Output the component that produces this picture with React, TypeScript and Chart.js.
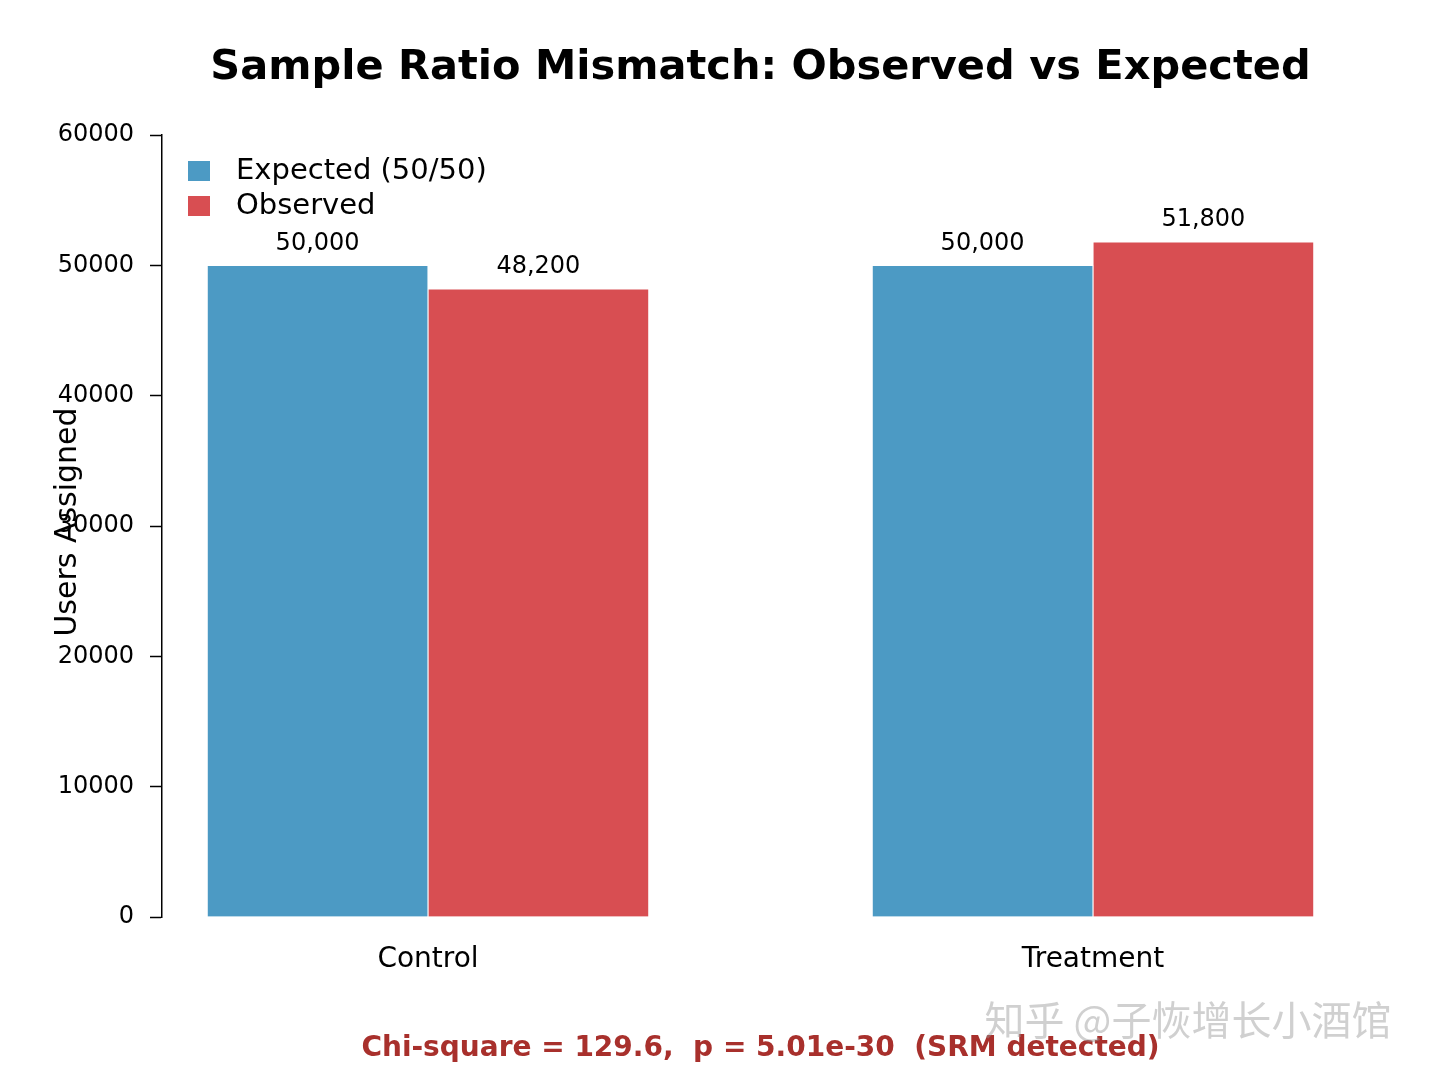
import React, { useEffect, useRef } from "react";
import { Chart, registerables } from "chart.js";
Chart.register(...registerables);

const categories = ["Control", "Treatment"];
const expected = [50000, 50000];
const observed = [48200, 51800];
const yTicks = [0, 10000, 20000, 30000, 40000, 50000, 60000];
const FONT = "'DejaVu Sans', sans-serif";
const BLUE = "#4C9AC4";
const RED = "#D84E52";

export default function App() {
  const ref = useRef<HTMLCanvasElement>(null);
  useEffect(() => {
    const off = 0.166;
    const overlay = {
      id: "overlay",
      afterDatasetsDraw(chart: any) {
        const ctx = chart.ctx;
        const ca = chart.chartArea;
        ctx.save();
        ctx.fillStyle = "#000";
        ctx.font = `24px ${FONT}`;
        ctx.textAlign = "center";
        ctx.textBaseline = "bottom";
        chart.data.datasets.forEach((ds: any, i: number) => {
          chart.getDatasetMeta(i).data.forEach((bar: any, j: number) => {
            ctx.fillText(ds.data[j].y.toLocaleString("en-US"), bar.x, bar.y - 10);
          });
        });
        const cx = (ca.left + ca.right) / 2;
        ctx.font = `bold 41.5px ${FONT}`;
        ctx.textBaseline = "middle";
        ctx.fillText("Sample Ratio Mismatch: Observed vs Expected", cx, 68);
        ctx.save();
        ctx.translate(68, 522);
        ctx.rotate(-Math.PI / 2);
        ctx.font = `30px ${FONT}`;
        ctx.fillText("Users Assigned", 0, 0);
        ctx.restore();
        ctx.textAlign = "left";
        ctx.font = `29px ${FONT}`;
        [["Expected (50/50)", BLUE], ["Observed", RED]].forEach(([t, c], k) => {
          const y = 171 + k * 35;
          ctx.fillStyle = c;
          ctx.fillRect(188, y - 10, 22, 20);
          ctx.fillStyle = "#000";
          ctx.fillText(t, 236, y);
        });
        ctx.textAlign = "center";
        ctx.fillStyle = "#A8302C";
        ctx.font = `bold 28px ${FONT}`;
        ctx.fillText("Chi-square = 129.6,  p = 5.01e-30  (SRM detected)", cx, 1049);
        ctx.fillStyle = "rgba(150,150,150,0.45)";
        ctx.font = `40px 'Noto Sans CJK SC', sans-serif`;
        ctx.fillText("知乎 @子恢增长小酒馆", 1188, 1020);
        ctx.restore();
      },
    };
    const chart = new Chart(ref.current!, {
      type: "bar",
      data: {
        datasets: [
          {
            label: "Expected (50/50)",
            data: expected.map((v, i) => ({ x: i - off, y: v })),
            backgroundColor: BLUE,
            borderColor: "#fff",
            borderWidth: 1,
          },
          {
            label: "Observed",
            data: observed.map((v, i) => ({ x: i + off, y: v })),
            backgroundColor: RED,
            borderColor: "#fff",
            borderWidth: 1,
          },
        ],
      },
      options: {
        animation: false,
        responsive: false,
        layout: { padding: { top: 135, right: 81, bottom: 0, left: 0 } },
        plugins: { legend: { display: false }, tooltip: { enabled: false } },
        datasets: { bar: { grouped: false, barThickness: 221 } as any },
        scales: {
          x: {
            type: "linear",
            min: -0.4,
            max: 1.4,
            offset: false,
            bounds: "ticks",
            afterBuildTicks: (s: any) => {
              s.ticks = categories.map((_, i) => ({ value: i }));
            },
            afterFit: (s: any) => {
              s.height = 163;
            },
            ticks: {
              callback: (v: any) => categories[v] ?? "",
              font: { family: FONT, size: 28 },
              color: "#000",
              padding: 18,
            },
            grid: { display: false },
            border: { display: false },
          },
          y: {
            min: 0,
            max: 60000,
            afterBuildTicks: (s: any) => {
              s.ticks = yTicks.map((v) => ({ value: v }));
            },
            afterFit: (s: any) => {
              s.width = 162;
            },
            ticks: {
              callback: (v: any) => String(v),
              font: { family: FONT, size: 24 },
              color: "#000",
              padding: 16,
            },
            grid: { drawOnChartArea: false, tickLength: 12, color: "#000", tickWidth: 1.5 },
            border: { display: true, color: "#000", width: 1.5 },
          },
        },
      },
      plugins: [overlay],
    });
    return () => chart.destroy();
  }, []);
  return (
    <div style={{ position: "absolute", left: 0, top: 0, width: 1440, height: 1080, background: "#fff" }}>
      <canvas ref={ref} width={1440} height={1080} />
    </div>
  );
}
